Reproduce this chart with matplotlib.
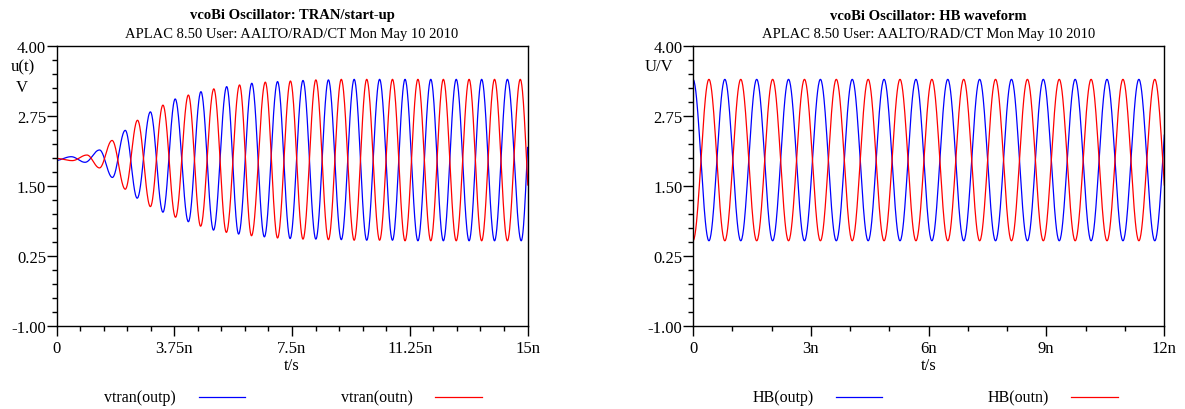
import numpy as np
import matplotlib
matplotlib.use("Agg")
import matplotlib.pyplot as plt
from matplotlib.ticker import MultipleLocator

# extrema (time in ns, voltage), joined by half-cosines
tran_t_outp = [-0.05, 0.47, 0.91, 1.37, 1.78, 2.19, 2.57, 2.99, 3.39, 3.78, 4.20, 4.60,
               5.00, 5.42, 5.80, 6.22, 6.62, 7.04, 7.44, 7.85, 8.26, 8.66, 9.07, 9.48,
               9.88, 10.29, 10.70, 11.10, 11.51, 11.92, 12.32, 12.73, 13.14, 13.54,
               13.95, 14.36, 14.80, 15.17]
tran_v_outp = [1.95, 2.02, 1.92, 2.14, 1.65, 2.49, 1.28, 2.82, 1.03, 3.05, 0.86, 3.18,
               0.71, 3.27, 0.64, 3.33, 0.59, 3.36, 0.56, 3.38, 0.55, 3.39, 0.54, 3.40,
               0.53, 3.40, 0.53, 3.40, 0.52, 3.40, 0.52, 3.40, 0.52, 3.40, 0.52, 3.40,
               0.52, 3.40]
tran_t_outn = [-0.02, 0.50, 0.97, 1.37, 1.77, 2.19, 2.58, 2.99, 3.39, 3.79, 4.20, 4.59,
               5.01, 5.41, 5.83, 6.21, 6.65, 7.04, 7.45, 7.85, 8.26, 8.66, 9.07, 9.48,
               9.88, 10.29, 10.70, 11.10, 11.51, 11.92, 12.32, 12.73, 13.14, 13.54,
               13.95, 14.36, 14.77, 15.17]
tran_v_outn = [1.99, 1.95, 2.05, 1.82, 2.31, 1.44, 2.67, 1.13, 2.94, 0.94, 3.12, 0.78,
               3.23, 0.67, 3.30, 0.61, 3.35, 0.57, 3.37, 0.55, 3.39, 0.54, 3.40, 0.53,
               3.40, 0.53, 3.40, 0.52, 3.40, 0.52, 3.40, 0.52, 3.40, 0.52, 3.40, 0.52,
               3.40, 0.52]

hb_t = [0.0, 0.406, 0.811, 1.217, 1.623, 2.029, 2.434, 2.840, 3.246, 3.651, 4.057,
        4.463, 4.868, 5.274, 5.680, 6.086, 6.491, 6.897, 7.303, 7.708, 8.114, 8.520,
        8.925, 9.331, 9.737, 10.143, 10.548, 10.954, 11.360, 11.765, 12.171]
hb_v_outp = [3.40, 0.52, 3.40, 0.52, 3.40, 0.52, 3.40, 0.52, 3.40, 0.52, 3.40, 0.52,
             3.40, 0.52, 3.40, 0.52, 3.40, 0.52, 3.40, 0.52, 3.40, 0.52, 3.40, 0.52,
             3.40, 0.52, 3.40, 0.52, 3.40, 0.52, 3.40]
hb_v_outn = [0.52, 3.40, 0.52, 3.40, 0.52, 3.40, 0.52, 3.40, 0.52, 3.40, 0.52, 3.40,
             0.52, 3.40, 0.52, 3.40, 0.52, 3.40, 0.52, 3.40, 0.52, 3.40, 0.52, 3.40,
             0.52, 3.40, 0.52, 3.40, 0.52, 3.40, 0.52]

tran_xticks = [0, 3.75, 7.5, 11.25, 15]
tran_xlabels = ["0", "3.75n", "7.5n", "11.25n", "15n"]
hb_xticks = [0, 3, 6, 9, 12]
hb_xlabels = ["0", "3n", "6n", "9n", "12n"]
yticks = [-1.0, 0.25, 1.5, 2.75, 4.0]
ylabels = ["-1.00", "0.25", "1.50", "2.75", "4.00"]

subtitle = "APLAC 8.50 User: AALTO/RAD/CT Mon May 10 2010"

BLUE = "#0000ff"
RED = "#ff0000"
W, H = 1185, 410

plt.rcParams["font.family"] = "Liberation Serif"


def smooth(ts, vs, n=40):
    # half-cosine between neighbouring extrema
    xs, ys = [], []
    for i in range(len(ts) - 1):
        s = np.linspace(0, 1, n, endpoint=False)
        xs.append(ts[i] + s * (ts[i + 1] - ts[i]))
        ys.append(vs[i] + (vs[i + 1] - vs[i]) * (1 - np.cos(np.pi * s)) / 2)
    xs.append([ts[-1]])
    ys.append([vs[-1]])
    return np.concatenate(xs), np.concatenate(ys)


fig = plt.figure(figsize=(W / 100, H / 100), dpi=100)


def fx(px):
    return px / W


def fy(py):
    return 1 - py / H


def panel(x0, x1, title, xt, xl, xmax, minor):
    ax = fig.add_axes([fx(x0), fy(327), fx(x1 - x0), (327 - 46.7) / H])
    ax.set_xlim(0, xmax)
    ax.set_ylim(-1, 4)
    ax.set_xticks(xt, xl)
    ax.set_yticks(yticks, ylabels)
    ax.xaxis.set_minor_locator(MultipleLocator(minor))
    ax.yaxis.set_minor_locator(MultipleLocator(0.25))
    ax.tick_params(which="both", direction="out", width=1, labelsize=12,
                   top=False, right=False)
    ax.tick_params(axis="y", pad=0.5)
    ax.tick_params(axis="x", pad=3)
    ax.tick_params(which="major", length=7)
    ax.tick_params(which="minor", length=3.5)
    for sp in ax.spines.values():
        sp.set_linewidth(1)
    cx = (x0 + x1) / 2
    fig.text(fx(cx), fy(16), title, ha="center", va="center",
             fontsize=10.5, fontweight="bold")
    fig.text(fx(cx), fy(34.5), subtitle, ha="center", va="center", fontsize=10.5)
    fig.text(fx(cx), fy(366.5), "t/s", ha="center", va="center", fontsize=12)
    return ax


ax1 = panel(56.5, 527.5, "vcoBi Oscillator: TRAN/start-up",
            tran_xticks, tran_xlabels, 15, 0.75)
x, y = smooth(tran_t_outp, tran_v_outp)
ax1.plot(x, y, color=BLUE, lw=0.9)
x, y = smooth(tran_t_outn, tran_v_outn)
ax1.plot(x, y, color=RED, lw=0.9)
fig.text(fx(22.5), fy(67), "u(t)", ha="center", va="center", fontsize=12)
fig.text(fx(21.5), fy(87.5), "V", ha="center", va="center", fontsize=12)

ax2 = panel(693, 1164, "vcoBi Oscillator: HB waveform",
            hb_xticks, hb_xlabels, 12, 1)
x, y = smooth(hb_t, hb_v_outp)
ax2.plot(x, y, color=BLUE, lw=0.9)
x, y = smooth(hb_t, hb_v_outn)
ax2.plot(x, y, color=RED, lw=0.9)
fig.text(fx(659), fy(67), "U/V", ha="center", va="center", fontsize=12)

# legend rows under each panel
legend = [
    (140, "vtran(outp)", 199, 245, BLUE),
    (377, "vtran(outn)", 435, 482, RED),
    (783, "HB(outp)", 836, 882, BLUE),
    (1018, "HB(outn)", 1071, 1118, RED),
]
for tx, label, l0, l1, col in legend:
    fig.text(fx(tx), fy(398), label, ha="center", va="center", fontsize=11.5)
    fig.add_artist(plt.Line2D([fx(l0), fx(l1)], [fy(397.5), fy(397.5)],
                              color=col, lw=0.9, transform=fig.transFigure))

fig.savefig("out.png", dpi=100)
